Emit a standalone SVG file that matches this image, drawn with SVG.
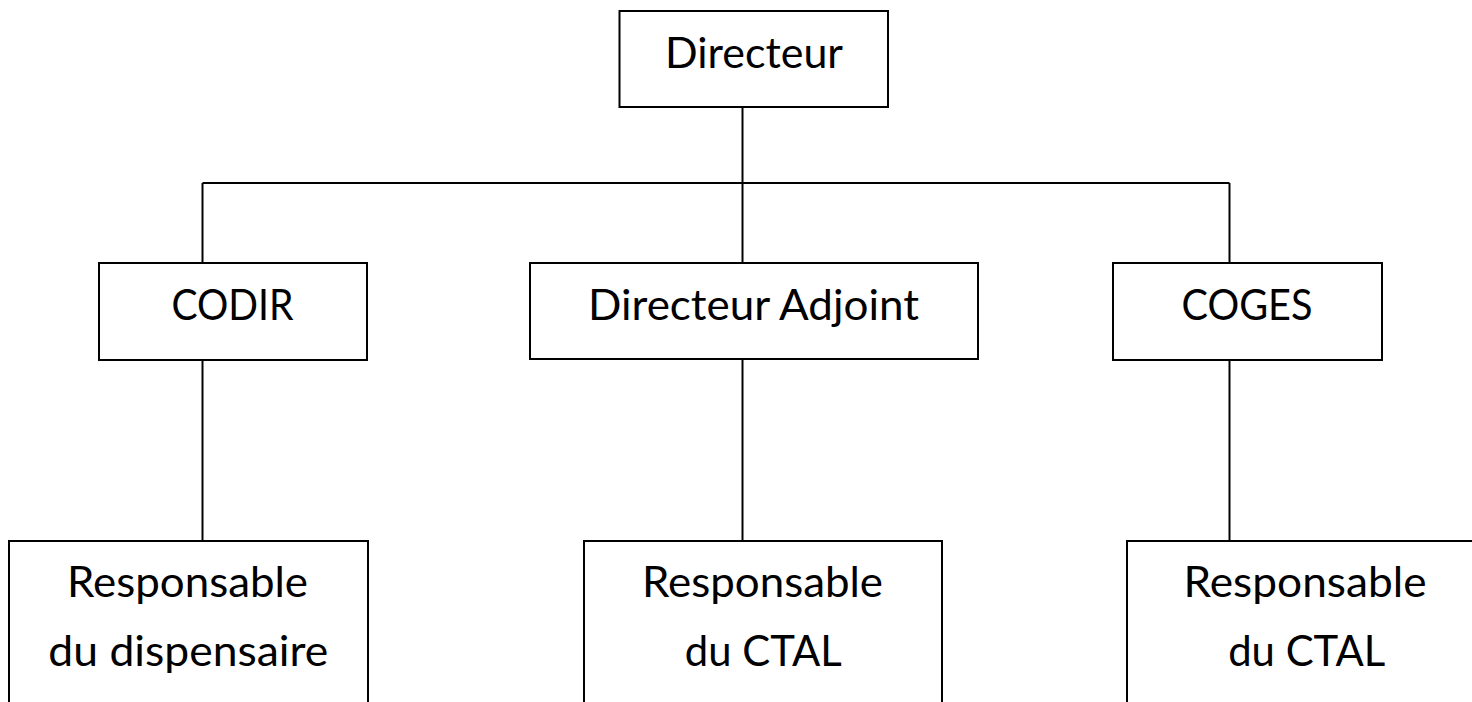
<svg xmlns="http://www.w3.org/2000/svg" width="1472" height="702" viewBox="0 0 1472 702">
<style>
.box{fill:#fff;stroke:#000;stroke-width:2}
.lbl{font-family:Lato,"Liberation Sans",sans-serif;font-size:43px;fill:#000;text-anchor:middle}
.con{fill:none;stroke:#000;stroke-width:2}
</style>
<rect width="1472" height="702" fill="#fff"/>
<g id="connectors">
<line class="con" x1="742.5" y1="107" x2="742.5" y2="263"/>
<line class="con" x1="202.5" y1="183" x2="1229.5" y2="183"/>
<line class="con" x1="202.5" y1="183" x2="202.5" y2="263"/>
<line class="con" x1="1229.5" y1="183" x2="1229.5" y2="263"/>
<line class="con" x1="202.5" y1="360" x2="202.5" y2="541"/>
<line class="con" x1="742.5" y1="359" x2="742.5" y2="541"/>
<line class="con" x1="1229.5" y1="360" x2="1229.5" y2="541"/>
</g>
<g id="n-directeur">
<rect class="box" x="619.5" y="11" width="268.5" height="96"/>
<text class="lbl" x="754" y="68" textLength="178" lengthAdjust="spacingAndGlyphs">Directeur</text>
</g>
<g id="n-codir">
<rect class="box" x="99" y="263" width="268" height="97"/>
<text class="lbl" x="232.5" y="320" textLength="122" lengthAdjust="spacingAndGlyphs">CODIR</text>
</g>
<g id="n-adjoint">
<rect class="box" x="530" y="263" width="448" height="96"/>
<text class="lbl" x="753.5" y="320" textLength="331" lengthAdjust="spacingAndGlyphs">Directeur Adjoint</text>
</g>
<g id="n-coges">
<rect class="box" x="1113" y="263" width="269" height="97"/>
<text class="lbl" x="1247" y="320" textLength="131" lengthAdjust="spacingAndGlyphs">COGES</text>
</g>
<g id="n-resp-disp">
<rect class="box" x="9" y="541" width="359" height="180"/>
<text class="lbl" x="187.5" y="597" textLength="241" lengthAdjust="spacingAndGlyphs">Responsable</text>
<text class="lbl" x="188.3" y="666" textLength="280" lengthAdjust="spacingAndGlyphs">du dispensaire</text>
</g>
<g id="n-resp-ctal1">
<rect class="box" x="584" y="541" width="358" height="180"/>
<text class="lbl" x="762.5" y="597" textLength="241" lengthAdjust="spacingAndGlyphs">Responsable</text>
<text class="lbl" x="763.3" y="666" textLength="157" lengthAdjust="spacingAndGlyphs">du CTAL</text>
</g>
<g id="n-resp-ctal2">
<rect class="box" x="1127" y="541" width="358" height="180"/>
<text class="lbl" x="1305" y="597" textLength="243" lengthAdjust="spacingAndGlyphs">Responsable</text>
<text class="lbl" x="1306.7" y="666" textLength="157" lengthAdjust="spacingAndGlyphs">du CTAL</text>
</g>
</svg>
